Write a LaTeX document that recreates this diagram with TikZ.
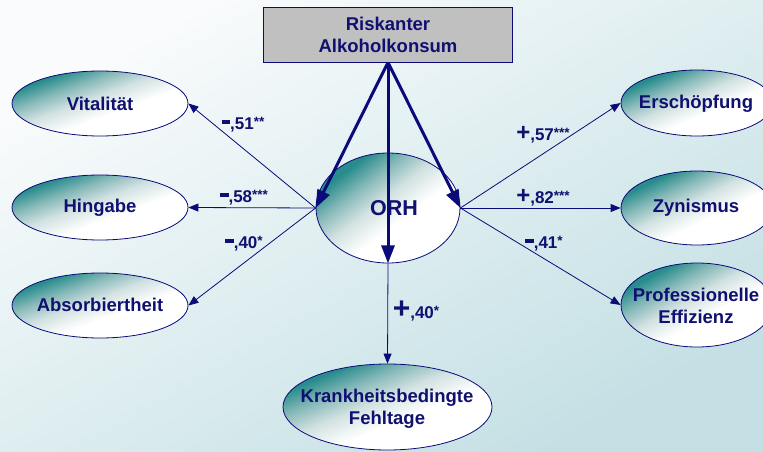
\documentclass[tikz,border=0pt]{standalone}
\usepackage{fontspec}
\setmainfont{Liberation Sans}
\usetikzlibrary{shapes.geometric,arrows.meta}
\definecolor{navy}{RGB}{16,16,112}
\definecolor{lineblue}{RGB}{10,10,120}
\definecolor{tealA}{RGB}{40,140,140}
\definecolor{tealM}{RGB}{135,185,185}
\definecolor{tealL}{RGB}{210,225,225}
\definecolor{bgA}{RGB}{249,251,252}
\definecolor{bgB}{RGB}{196,224,228}
\definecolor{boxgray}{RGB}{192,192,192}
\pgfdeclareverticalshading{ovalshade}{100bp}{color(0bp)=(white); color(43bp)=(white); color(54bp)=(tealL); color(63bp)=(tealM); color(72bp)=(tealA); color(100bp)=(tealA)}
\newcommand\mysign{\rule[5pt]{8.5pt}{4.5pt}}
\newcommand\myplus[1]{{\fontsize{#1}{#1}\selectfont +}}
\newcommand\mystars[1]{\raisebox{2.5pt}{\fontsize{13.5}{13.5}\selectfont #1}}
\begin{document}
\begin{tikzpicture}[x=1pt,y=-1pt,
  oval/.style={ellipse, draw=lineblue, line width=0.8pt, inner sep=0pt,
    shading=ovalshade, shading angle=#1},
  txt/.style={text=navy, font=\fontsize{18.5}{22}\selectfont\bfseries, align=center, inner sep=0pt},
  coef/.style={text=navy, font=\fontsize{17}{17}\selectfont\bfseries, inner sep=0pt, anchor=base},
  conn/.style={draw=lineblue, line width=0.8pt, -{Triangle[length=10pt,width=8pt]}},
  bigarrow/.style={draw=lineblue, line width=3pt, -{Triangle[length=18pt,width=13pt]}}
]
\useasboundingbox (0,0) rectangle (763,452);
\clip (0,0) rectangle (763,452);
\fill[top color=bgA, bottom color=bgB, shading angle=30] (0,0) rectangle (763,452);

% box
\node[draw=lineblue, fill=boxgray, line width=0.8pt, minimum width=249pt, minimum height=55pt, txt] (risk) at (388,34.5) {Riskanter\\Alkoholkonsum};

% central ellipse
\node[oval=37.4, minimum width=144pt, minimum height=110pt] (orh) at (388,208) {};
\node[txt, font=\fontsize{21.5}{21.5}\selectfont\bfseries] (orht) at (394,208) {ORH};

% left ellipses
\node[oval=20.3, minimum width=176pt, minimum height=65pt] (vit) at (100,103.5) {};
\node[oval=20.3, minimum width=176pt, minimum height=65pt] (hing) at (100,207.5) {};
\node[oval=20.3, minimum width=176pt, minimum height=65pt] (abs) at (100,305.5) {};
\node[txt] (vitt) at (100,104) {Vitalität};
\node[txt] (hingt) at (100,208) {Hingabe};
\node[txt] (abst) at (100,305) {Absorbiertheit};

% right ellipses
\node[oval=23.5, minimum width=152pt, minimum height=66pt] (ersch) at (697,103) {};
\node[oval=26, minimum width=152pt, minimum height=74pt] (zyn) at (697,208) {};
\node[oval=29, minimum width=152pt, minimum height=84pt] (prof) at (697,305) {};
\node[txt] (ersht) at (696,104) {Erschöpfung};
\node[txt] (zynt) at (696,208) {Zynismus};
\node[txt] (proft) at (696,306) {Professionelle\\Effizienz};

% bottom ellipse
\node[oval=22.4, minimum width=209pt, minimum height=86pt] (krank) at (387.5,407) {};
\node[txt] (krankt) at (387,408.5) {Krankheitsbedingte\\Fehltage};

% thick arrows
\draw[bigarrow] (risk.south) -- (orh.west);
\draw[bigarrow] (risk.south) -- (orh.east);
\draw[bigarrow] (risk.south) -- (orh.south);

% thin arrows
\draw[conn] (orh.west) -- (vit.east);
\draw[conn] (orh.west) -- (hing.east);
\draw[conn] (orh.west) -- (abs.east);
\draw[conn] (orh.east) -- (ersch.west);
\draw[conn] (orh.east) -- (zyn.west);
\draw[conn] (orh.east) -- (prof.west);
\draw[conn] (orh.south) -- (krank.north);

% coefficients
\node[coef] (c1) at (243,129) {\mysign,51\mystars{**}};
\node[coef] (c2) at (244,202) {\mysign,58\mystars{***}};
\node[coef] (c3) at (244,248) {\mysign,40\mystars{*}};
\node[coef] (c4) at (543,140) {\myplus{24},57\mystars{***}};
\node[coef] (c5) at (543,203) {\myplus{24},82\mystars{***}};
\node[coef] (c6) at (544,248) {\mysign,41\mystars{*}};
\node[coef] (c7) at (416,318) {\myplus{30},40\mystars{*}};
\end{tikzpicture}
\end{document}
